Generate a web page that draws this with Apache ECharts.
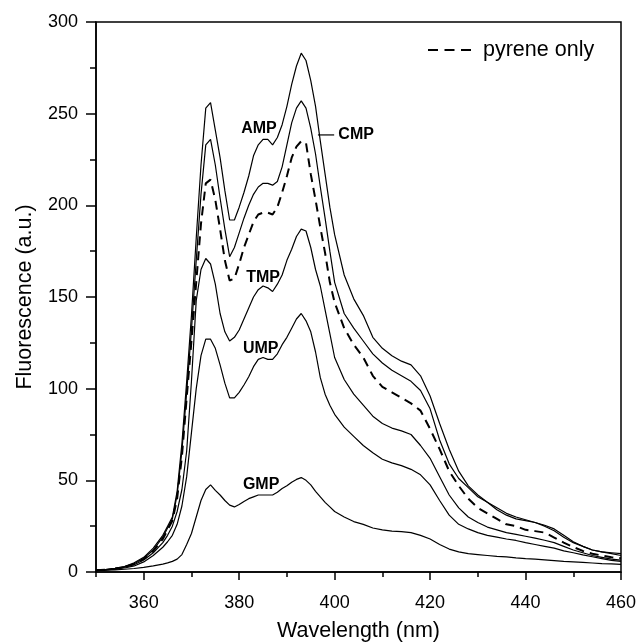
<!DOCTYPE html>
<html><head><meta charset="utf-8">
<script src="https://cdn.jsdelivr.net/npm/echarts@6/dist/echarts.min.js"></script>
<style>html,body{margin:0;padding:0;background:#fff}#c{width:638px;height:643px}</style>
</head><body><div id="c"></div>
<script>
const wavelengths = [350,352,354,356,358,360,362,364,
365,366,367,368,369,370,371,372,373,374,375,376,377,378,379,380,381,382,383,384,385,386,387,388,389,390,391,392,393,394,395,396,397,398,399,400,
402,404,406,408,410,412,414,416,418,420,422,424,426,428,430,432,434,436,438,440,442,444,446,448,450,452,454,456,458,460];

const ampValues = [1,1.3,2,3,5,8,13,20,
25,30,44,70,104,140,182,222,253,256,241,226,208,192,192,199,207,216,227,233,236,236,233,237,244,254,266,276,283,279,268,254,235,217,199,184,
162,149,140,128,122,118,115,113,107,96,81,67,55,47,42,38,35,32,30,28.5,27,25.5,23.5,20,16.5,14,12,11,10.5,10];

const cmpValues = [1,1.3,2,3,4.5,7.5,12,19,
24,29,42,66,98,132,170,206,233,236,222,204,187,172,177,185,193,200,206,210,212,212,211,213,221,233,245,253,257,253,242,228,210,193,175,158,
141,133,126,119,114,110,107,104,99,89,72,59,51,46,41,38,34,31,29,28,27,25,22.5,19,16,14,12,11,10,9];

const pyreneValues = [1,1.3,1.8,2.8,4.3,7,11.5,18,
23,28,40,63,95,126,158,190,212,214,203,187,170,159,160,168,177,184,191,195,196,196,195,199,207,216,226,232,235,234,217,203,188,174,158,147,
133,124,117,107,101,98,95,92,88,78,67,55,47,40,35,32,29,26,25,23,22.3,21.5,18.8,16,13.6,11.5,10,9,8,7.5];

const tmpValues = [1,1.2,1.7,2.6,4,6.5,10.5,16,
20,25,33,45,66,104,148,165,171,168,157,141,131,126,128,132,138,144,150,154,156,155,153,157,162,170,176,183,187,186,177,165,156,143,130,117,
105,97,91,85,81,78.5,77,75,69,62,52,42,35,30,27,24.5,23,21.5,20.5,19.5,18.5,17.3,16,14,12,10.5,9,8,7,6.5];

const umpValues = [1,1.1,1.5,2.2,3.3,5.5,9,13.5,
16.5,20,26,36,52,76,100,118,127,127,122,113,103,95,95,98,102,106.5,112,116,117,116,116,119,124,128,133,138,141,137,131,120,106,97,91,86,
79,74,69,65,61.5,59.5,58,56,53,47.5,39,31,26,23.5,21.5,20,19,18,17.2,16,15,14,13,11.5,10.5,9.3,8.3,7.3,6.3,5.8];

const gmpValues = [0.8,1,1.2,1.5,1.9,2.5,3.3,4.3,
5,5.8,7,9.5,15,21,30,39,45,47.5,44.5,42,39,36.5,35.5,36.8,38.5,40,41,42,42,42,42,43.5,45.5,47,49,50.5,51.5,50,47.5,44,41,38,35.5,33,
30,27.5,26,24,23,22.3,22,21.5,20,18,15,12.5,11,10,9.5,9,8.5,8.2,7.7,7.3,7,6.6,6.2,5.8,5.5,5.2,4.9,4.6,4.4,4.2];

const xMajorTicks = [360,380,400,420,440,460];
const xMinorTicks = [350,370,390,410,430,450];
const seriesNames = ['AMP','CMP','pyrene only','TMP','UMP','GMP'];

const FONT = '"Liberation Sans", Arial, sans-serif';
const chart = echarts.init(document.getElementById('c'), null, {renderer:'canvas'});

function pairs(vals){ return wavelengths.map((w,i)=>[w, vals[i]]); }
function lineSeries(name, vals, dashed){
  return {
    name, type:'line', data: pairs(vals), symbol:'none', smooth:false,
    xAxisIndex:0, yAxisIndex:0, silent:true,
    lineStyle:{color:'#000', width: dashed ? 2 : 1.2, type: dashed ? [9,6] : 'solid'}
  };
}

const option = {
  animation:false,
  backgroundColor:'#fff',
  grid:{left:96, right:17, top:22, bottom:71, outerBoundsMode:'none', containLabel:false, show:true, borderColor:'#000', borderWidth:1.5, backgroundColor:'transparent'},
  xAxis:[{
    type:'value', min:350, max:460,
    name:'Wavelength (nm)', nameLocation:'middle', nameGap:48,
    nameTextStyle:{fontFamily:FONT, fontSize:21.5, color:'#000'},
    axisLine:{show:true, lineStyle:{color:'#000', width:1.5}},
    axisTick:{show:true, customValues:xMajorTicks, length:8, lineStyle:{color:'#000', width:1.5}},
    axisLabel:{show:true, customValues:xMajorTicks, fontFamily:FONT, fontSize:18, color:'#000', margin:22},
    splitLine:{show:false}
  },{
    type:'value', min:350, max:460, position:'bottom',
    axisLine:{show:false},
    axisTick:{show:true, customValues:xMinorTicks, length:5, lineStyle:{color:'#000', width:1.5}},
    axisLabel:{show:false},
    splitLine:{show:false}
  }],
  yAxis:{
    type:'value', min:0, max:300, interval:50,
    name:'Fluorescence (a.u.)', nameLocation:'middle', nameGap:60,
    nameTextStyle:{fontFamily:FONT, fontSize:21.5, color:'#000'},
    axisLine:{show:true, lineStyle:{color:'#000', width:1.5}},
    axisTick:{show:true, length:10, lineStyle:{color:'#000', width:1.5}},
    minorTick:{show:true, splitNumber:2, length:6, lineStyle:{color:'#000', width:1.5}},
    axisLabel:{fontFamily:FONT, fontSize:18, color:'#000', margin:18},
    splitLine:{show:false}, minorSplitLine:{show:false}
  },
  series:[
    lineSeries(seriesNames[0], ampValues, false),
    lineSeries(seriesNames[1], cmpValues, false),
    lineSeries(seriesNames[2], pyreneValues, true),
    lineSeries(seriesNames[3], tmpValues, false),
    lineSeries(seriesNames[4], umpValues, false),
    lineSeries(seriesNames[5], gmpValues, false)
  ]
};
chart.setOption(option);

const P = (x,y) => chart.convertToPixel({gridIndex:0}, [x,y]);
function label(text, x, y){
  const p = P(x,y);
  return {type:'text', x:p[0], y:p[1], style:{text, fontFamily:FONT, fontSize:16, fontWeight:'bold', fill:'#000', align:'center', verticalAlign:'middle'}, z:10};
}
const lead0 = P(396.5, 238.4), lead1 = P(399.9, 238.4);
chart.setOption({graphic:[
  label('AMP', 384.15, 241.6),
  label('CMP', 404.5, 238.4),
  label('TMP', 385.0, 160.6),
  label('UMP', 384.5, 121.6),
  label('GMP', 384.6, 47.6),
  {type:'line', shape:{x1:lead0[0], y1:lead0[1], x2:lead1[0], y2:lead1[1]}, style:{stroke:'#000', lineWidth:1.2}, z:10},
  {type:'line', shape:{x1:428, y1:50, x2:471, y2:50}, style:{stroke:'#000', lineWidth:2, lineDash:[10,6.5]}, z:10},
  {type:'text', x:483, y:50, style:{text:'pyrene only', fontFamily:FONT, fontSize:21.5, fill:'#000', align:'left', verticalAlign:'middle'}, z:10}
]});
</script>
</body></html>
